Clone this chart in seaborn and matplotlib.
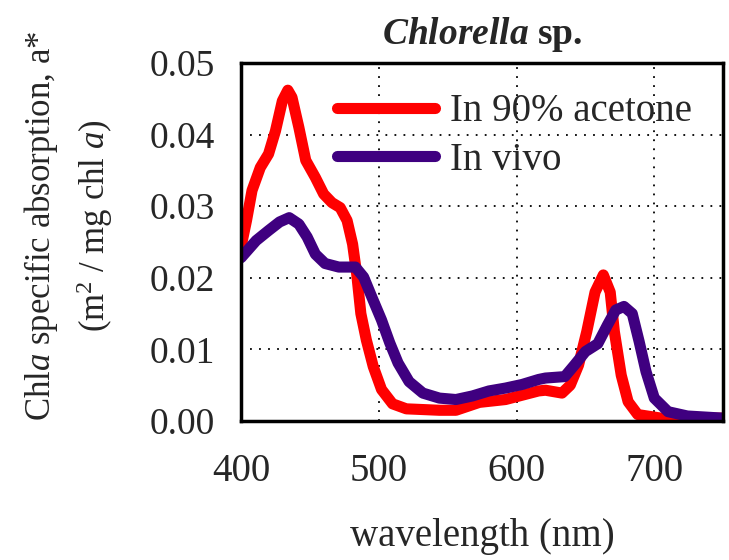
import seaborn as sns
import matplotlib.pyplot as plt
import pandas as pd

# 数据
acetone_wl = [400, 404, 408, 414, 420, 425, 430, 434, 437, 442, 447, 454, 460, 466, 472, 477, 481, 484,
              487, 491, 496, 502, 510, 520, 544, 556, 573, 592, 606, 616, 621, 633, 639, 645, 651, 657,
              663, 668, 671, 676, 681, 688, 705, 750]
acetone_a = [0.0243, 0.0280, 0.0322, 0.0354, 0.0373, 0.0405, 0.0447, 0.0462, 0.0452, 0.0410, 0.0364,
             0.0340, 0.0317, 0.0305, 0.0298, 0.0280, 0.0247, 0.0205, 0.0150, 0.0113, 0.0076, 0.0044,
             0.0024, 0.0017, 0.0015, 0.0015, 0.0026, 0.0030, 0.0037, 0.0042, 0.0043, 0.0039, 0.0050,
             0.0078, 0.0125, 0.0180, 0.0204, 0.0180, 0.0125, 0.0064, 0.0027, 0.0009, 0.0004, 0.0004]
vivo_wl = [400, 411, 420, 428, 435, 442, 448, 454, 461, 471, 483, 489, 495, 502, 508, 514, 522, 532, 544,
           556, 568, 580, 592, 604, 616, 621, 635, 642, 650, 659, 666, 672, 678, 684, 689, 694, 700, 710,
           724, 750]
vivo_a = [0.0228, 0.0252, 0.0266, 0.0278, 0.0284, 0.0275, 0.0257, 0.0233, 0.0220, 0.0215, 0.0215, 0.0201,
          0.0173, 0.0141, 0.0109, 0.0081, 0.0055, 0.0039, 0.0032, 0.0030, 0.0035, 0.0042, 0.0046, 0.0051,
          0.0058, 0.0060, 0.0062, 0.0078, 0.0097, 0.0108, 0.0134, 0.0155, 0.0160, 0.0150, 0.0111, 0.0069,
          0.0032, 0.0013, 0.0007, 0.0004]
series_names = ['In 90% acetone', 'In vivo']
series_colors = ['#FF0000', '#3F0080']

df = pd.concat([
    pd.DataFrame({'wl': acetone_wl, 'a': acetone_a, 'series': series_names[0]}),
    pd.DataFrame({'wl': vivo_wl, 'a': vivo_a, 'series': series_names[1]}),
])

sns.set_style('white')
plt.rcParams['font.family'] = ['Liberation Serif', 'DejaVu Serif']
plt.rcParams['mathtext.fontset'] = 'custom'
plt.rcParams['mathtext.rm'] = 'Liberation Serif'
plt.rcParams['mathtext.it'] = 'Liberation Serif:italic'
plt.rcParams['mathtext.bf'] = 'Liberation Serif:italic:bold'

fig = plt.figure(figsize=(7.29, 5.6), dpi=100)
ax = fig.add_axes([0.3306, 0.2482, 0.6614, 0.6393])

sns.lineplot(data=df, x='wl', y='a', hue='series', palette=dict(zip(series_names, series_colors)),
             linewidth=8, ax=ax, sort=False, solid_joinstyle='round', solid_capstyle='round')

ax.set_xlim(400, 750)
ax.set_ylim(0, 0.05)
ax.set_xticks([400, 500, 600, 700])
ax.set_yticks([0, 0.01, 0.02, 0.03, 0.04, 0.05])
ax.set_yticklabels(['0.00', '0.01', '0.02', '0.03', '0.04', '0.05'])
ax.grid(True, color='black', linestyle=(0, (1, 4)), linewidth=1.3)
for s in ax.spines.values():
    s.set_color('black')
    s.set_linewidth(2.5)
ax.tick_params(axis='both', direction='out', length=7, width=2, color='black')
ax.tick_params(axis='y', labelsize=27, pad=12)
ax.tick_params(axis='x', labelsize=28, pad=16)

ax.set_xlabel('wavelength (nm)', fontsize=28)
ax.xaxis.set_label_coords(0.5, -0.272)
ax.set_ylabel('Chl$\\it{a}$ specific absorption, a*\n(m$^2$ / mg chl $\\it{a}$)', fontsize=25,
              linespacing=1.45)
ax.yaxis.set_label_coords(-0.262, 0.545)
ax.set_title('$\\mathbf{Chlorella}$ sp.', fontsize=27, fontweight='bold', pad=14)

leg = ax.legend(loc='upper left', bbox_to_anchor=(0.2, 0.915), frameon=False, fontsize=28,
                handlelength=2.5, labelspacing=0.3, handletextpad=0.4, borderaxespad=0, borderpad=0)
for h in leg.get_lines():
    h.set_linewidth(8)

fig.savefig('out.png', dpi=100)
